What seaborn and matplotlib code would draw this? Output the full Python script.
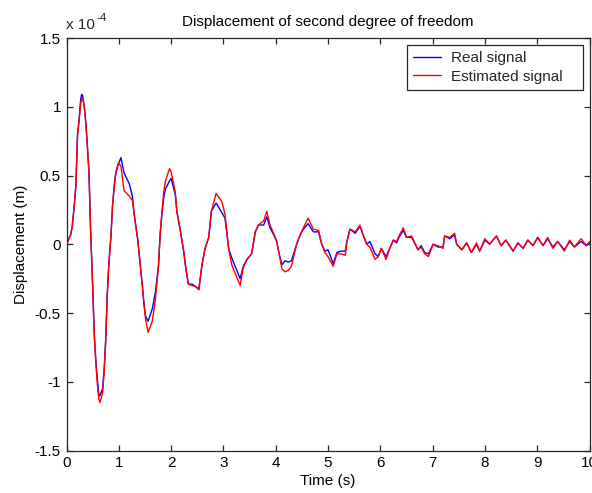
import numpy as np
import pandas as pd
import matplotlib
matplotlib.use("Agg")
import matplotlib.pyplot as plt
import matplotlib.transforms as mtransforms
import seaborn as sns
from matplotlib.ticker import FuncFormatter

time_s = [0, 0.08, 0.11, 0.15, 0.18, 0.21, 0.24, 0.27, 0.29, 0.31, 0.34, 0.37, 0.40, 0.43, 0.46,
          0.50, 0.53, 0.56, 0.59, 0.62, 0.64, 0.69, 0.72, 0.75, 0.78, 0.81, 0.85, 0.88, 0.91, 0.94,
          0.99, 1.04, 1.10, 1.20, 1.26, 1.29, 1.36, 1.40, 1.45, 1.48, 1.51, 1.56, 1.64, 1.70, 1.76,
          1.79, 1.83, 1.86, 1.89, 1.97, 2.00, 2.08, 2.11, 2.18, 2.24, 2.28, 2.33, 2.40, 2.48, 2.53,
          2.59, 2.65, 2.72, 2.77, 2.86, 2.97, 3.03, 3.10, 3.16, 3.32, 3.38, 3.45, 3.54, 3.61, 3.67,
          3.77, 3.83, 3.89, 3.96, 4.02, 4.06, 4.12, 4.18, 4.24, 4.30, 4.40, 4.47, 4.53, 4.62, 4.72,
          4.82, 4.88, 4.94, 5.00, 5.10, 5.17, 5.25, 5.33, 5.36, 5.42, 5.52, 5.61, 5.67, 5.74, 5.80,
          5.90, 5.96, 6.02, 6.11, 6.18, 6.25, 6.31, 6.37, 6.44, 6.50, 6.60, 6.72, 6.78, 6.85, 6.92,
          7.01, 7.10, 7.20, 7.23, 7.33, 7.42, 7.46, 7.56, 7.65, 7.74, 7.84, 7.90, 8.00, 8.09, 8.22,
          8.31, 8.40, 8.54, 8.63, 8.73, 8.82, 8.92, 9.01, 9.11, 9.20, 9.30, 9.39, 9.52, 9.62, 9.71,
          9.84, 9.94, 10.0]

# displacement in units of 1e-4 m
real_signal = [0, .07, .13, .29, .43, .80, .90, 1.05, 1.09, 1.08, 1.00, .88, .71, .52, .11,
               -.30, -.65, -.84, -.98, -1.10, -1.10, -1.05, -.91, -.69, -.35, -.14, .06, .28, .40, .51,
               .58, .63, .52, .44, .35, .23, .04, -.11, -.30, -.43, -.52, -.56, -.47, -.35, -.15,
               .07, .24, .34, .40, .46, .48, .36, .24, .09, -.05, -.17, -.29, -.29, -.31, -.33,
               -.15, -.03, .05, .24, .30, .23, .19, -.03, -.10, -.25, -.16, -.11, -.07, .09, .14,
               .14, .20, .12, .07, .02, -.06, -.15, -.12, -.13, -.12, 0, .07, .11, .15, .09,
               .09, 0, -.05, -.04, -.14, -.06, -.05, -.05, .02, .11, .08, .13, .07, 0, .02,
               -.07, -.09, -.03, -.09, -.03, .03, .01, .06, .10, .05, .05, -.04, -.01, -.06, -.07,
               0, -.02, -.02, .06, .04, .07, 0, -.04, .01, -.06, 0, -.05, .03, 0, .06,
               -.01, .03, -.05, .01, -.03, .03, -.01, .05, -.01, .04, -.02, .02, -.04, .02, -.02,
               .02, -.01, .01]

estimated_signal = [0, .07, .13, .29, .43, .78, .90, 1.02, 1.06, 1.06, 1.00, .88, .71, .52, .11,
                    -.30, -.65, -.86, -1.02, -1.13, -1.15, -1.08, -.93, -.70, -.37, -.15, .06, .28, .42, .52,
                    .59, .57, .39, .35, .32, .23, .04, -.11, -.30, -.43, -.54, -.64, -.56, -.40, -.15,
                    .07, .26, .38, .46, .55, .53, .38, .24, .09, -.05, -.17, -.29, -.30, -.31, -.33,
                    -.15, -.03, .05, .24, .37, .31, .22, -.03, -.15, -.30, -.17, -.11, -.07, .09, .14,
                    .17, .24, .14, .08, .02, -.06, -.18, -.20, -.19, -.16, 0, .07, .12, .19, .11,
                    .10, 0, -.06, -.09, -.16, -.07, -.07, -.08, .01, .11, .09, .14, .07, 0, -.02,
                    -.11, -.09, -.03, -.11, -.03, .03, .02, .07, .12, .05, .06, -.04, -.02, -.07, -.09,
                    0, -.01, -.03, .06, .05, .08, 0, -.04, .01, -.06, .01, -.05, .04, 0, .06,
                    -.01, .03, -.05, .01, -.03, .03, -.01, .05, -.01, .05, -.03, .02, -.05, .03, -.02,
                    .04, -.01, .02]

x_ticks = list(range(0, 11))
y_ticks = [-1.5, -1, -0.5, 0, 0.5, 1, 1.5]
scale = 1e-4
FS = 11

sns.set_theme(style="white")
plt.rcParams["font.family"] = ["Liberation Sans", "DejaVu Sans"]
plt.rcParams["axes.unicode_minus"] = False

df = pd.DataFrame({
    "t": time_s,
    "real": np.array(real_signal) * scale,
    "est": np.array(estimated_signal) * scale,
})

fig = plt.figure(figsize=(5.92, 4.93), dpi=100, facecolor="white")
ax = fig.add_axes([66.5 / 592, 1 - 450.5 / 493, (589.5 - 66.5) / 592, (450.5 - 38) / 493])

sns.lineplot(data=df, x="t", y="real", ax=ax, color="#0000ff", lw=1.0,
             label="Real signal", sort=False, estimator=None)
sns.lineplot(data=df, x="t", y="est", ax=ax, color="#ff0000", lw=1.0,
             label="Estimated signal", sort=False, estimator=None)

ax.set_xlim(0, 10)
ax.set_ylim(-1.5e-4, 1.5e-4)
ax.set_xticks(x_ticks)
ax.set_yticks([v * scale for v in y_ticks])
ax.xaxis.set_major_formatter(FuncFormatter(lambda v, p: "%g" % v))
ax.yaxis.set_major_formatter(FuncFormatter(lambda v, p: "%g" % round(v / scale, 3)))

for s in ax.spines.values():
    s.set_visible(True)
    s.set_color("#262626")
    s.set_linewidth(0.9)
ax.tick_params(direction="in", length=4, width=0.9, colors="#262626", labelcolor="black",
               labelsize=FS, top=True, right=True, bottom=True, left=True, pad=4)

ax.set_xlabel("Time (s)", fontsize=FS, labelpad=3, color="black")
ax.set_ylabel("Displacement (m)", fontsize=FS, labelpad=5, color="black")
ax.set_title("Displacement of second degree of freedom", fontsize=FS, pad=9, color="black")

# MATLAB-style exponent label
base_tr = mtransforms.offset_copy(ax.transAxes, fig=fig, x=0, y=9, units="dots")
ax.text(0.0, 1.0, "x 10", transform=base_tr, fontsize=FS, ha="left", va="baseline")
exp_tr = mtransforms.offset_copy(ax.transAxes, fig=fig, x=30, y=17, units="dots")
ax.text(0.0, 1.0, "-4", transform=exp_tr, fontsize=FS * 0.75, ha="left", va="baseline")

leg = ax.legend(loc="upper left", bbox_to_anchor=(0.651, 0.0, 0.3365, 0.983), mode="expand",
                fontsize=FS, frameon=True, fancybox=False, framealpha=1,
                edgecolor="#262626", borderpad=0.4, handlelength=1.8, handletextpad=0.65,
                borderaxespad=0.0, labelspacing=0.3)
leg.get_frame().set_linewidth(0.9)

fig.savefig("out.png", dpi=100, facecolor="white")
